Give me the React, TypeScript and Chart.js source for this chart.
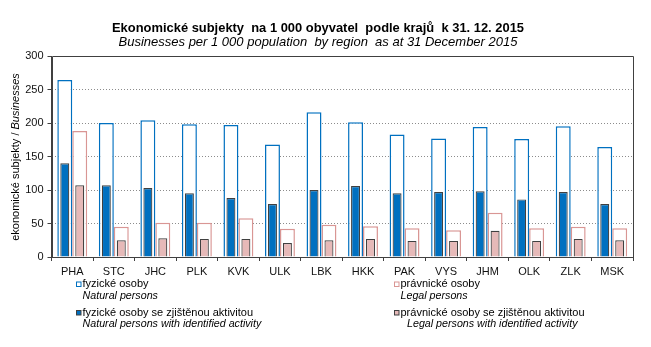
import React, { useEffect, useRef } from "react";
import { Chart, registerables } from "chart.js";

Chart.register(...registerables);

const categories = ["PHA", "STC", "JHC", "PLK", "KVK", "ULK", "LBK", "HKK", "PAK", "VYS", "JHM", "OLK", "ZLK", "MSK"];
const naturalPersons = [264, 200, 204, 198, 197, 168, 216, 201, 183, 177, 194, 176, 195, 164];
const naturalActive = [140, 107, 103, 95, 88, 79, 100, 106, 95, 97, 98, 86, 97, 79];
const legalPersons = [188, 45, 51, 51, 58, 42, 48, 46, 43, 40, 66, 43, 45, 43];
const legalActive = [107, 25, 28, 27, 27, 21, 25, 27, 24, 24, 39, 24, 27, 25];
const yTicks = [0, 50, 100, 150, 200, 250, 300];

const titleCz = "Ekonomické subjekty  na 1 000 obyvatel  podle krajů  k 31. 12. 2015";
const titleEn = "Businesses per 1 000 population  by region  as at 31 December 2015";
const yTitleCz = "ekonomické subjekty / ";
const yTitleEn = "Businesses";
const legendItems = [
  { cz: "fyzické osoby", en: "Natural persons", fill: "#ffffff", stroke: "#0070C0" },
  { cz: "právnické osoby", en: "Legal persons", fill: "#ffffff", stroke: "#D99694" },
  { cz: "fyzické osoby se zjištěnou aktivitou", en: "Natural persons with identified activity", fill: "#0070C0", stroke: "#404040" },
  { cz: "právnické osoby se zjištěnou aktivitou", en: "Legal persons with identified activity", fill: "#E6B9B8", stroke: "#404040" },
];

const FONT = '"Liberation Sans", Arial, sans-serif';
const BLUE = "#0070C0";
const PINK_LINE = "#D99694";
const PINK_FILL = "#E6B9B8";
const DARK = "#404040";

const decorPlugin = {
  id: "decor",
  afterDatasetsDraw(chart: any) {
    const { ctx, chartArea } = chart;
    const { left, top, right, bottom } = chartArea;
    ctx.save();
    ctx.strokeStyle = DARK;
    ctx.lineWidth = 1;
    ctx.beginPath();
    const l = Math.round(left) + 0.5;
    const r = Math.round(right) + 0.5;
    const t = Math.round(top) + 0.5;
    const b = Math.round(bottom) + 0.5;
    ctx.moveTo(l, t);
    ctx.lineTo(r, t);
    ctx.lineTo(r, b);
    ctx.lineTo(l, b);
    ctx.closePath();
    ctx.stroke();
    ctx.restore();
  },
  afterDraw(chart: any) {
    const { ctx } = chart;
    ctx.save();
    ctx.fillStyle = "#000";
    ctx.textAlign = "center";
    ctx.textBaseline = "alphabetic";
    ctx.font = `bold 13px ${FONT}`;
    ctx.fillText(titleCz, 318, 31.5, 412);
    ctx.font = `italic 13px ${FONT}`;
    ctx.fillText(titleEn, 318, 46, 399);

    // y axis title
    ctx.save();
    ctx.translate(16, 157);
    ctx.rotate(-Math.PI / 2);
    ctx.textBaseline = "middle";
    ctx.textAlign = "left";
    ctx.font = `11px ${FONT}`;
    const w1 = ctx.measureText(yTitleCz).width;
    ctx.font = `italic 11px ${FONT}`;
    const w2 = ctx.measureText(yTitleEn).width;
    const start = -(w1 + w2) / 2;
    ctx.font = `11px ${FONT}`;
    ctx.fillText(yTitleCz, start, 0);
    ctx.font = `italic 11px ${FONT}`;
    ctx.fillText(yTitleEn, start + w1, 0);
    ctx.restore();

    // legend
    const cols = [76, 394];
    const rows = [284, 312.5];
    legendItems.forEach((it, i) => {
      const x = cols[i % 2];
      const y = rows[Math.floor(i / 2)];
      ctx.fillStyle = it.fill;
      ctx.fillRect(x, y - 2.5, 5, 5);
      ctx.strokeStyle = it.stroke;
      ctx.lineWidth = 1;
      ctx.strokeRect(x + 0.5, y - 2, 4.5, 4.5);
      ctx.fillStyle = "#000";
      ctx.textAlign = "left";
      ctx.textBaseline = "middle";
      ctx.font = `11px ${FONT}`;
      ctx.fillText(it.cz, x + 6.5, y);
      ctx.font = `italic 10.7px ${FONT}`;
      const enX = i === 3 ? x + 13 : x + 6.5;
      ctx.fillText(it.en, enX, y + 12);
    });
    ctx.restore();
  },
};

export default function App() {
  const ref = useRef<HTMLCanvasElement | null>(null);
  useEffect(() => {
    if (!ref.current) return;
    const chart = new Chart(ref.current, {
      type: "bar",
      data: {
        labels: categories,
        datasets: [
          {
            label: "fyzické osoby se zjištěnou aktivitou",
            data: naturalActive,
            stack: "natural",
            order: 1,
            backgroundColor: BLUE,
            borderColor: DARK,
            borderWidth: 1.2,
            categoryPercentage: 0.72,
            barPercentage: 0.6,
          },
          {
            label: "právnické osoby se zjištěnou aktivitou",
            data: legalActive,
            stack: "legal",
            order: 1,
            backgroundColor: PINK_FILL,
            borderColor: DARK,
            borderWidth: 1.2,
            categoryPercentage: 0.72,
            barPercentage: 0.6,
          },
          {
            label: "fyzické osoby",
            data: naturalPersons,
            stack: "natural",
            order: 2,
            backgroundColor: "#ffffff",
            borderColor: BLUE,
            borderWidth: 1.5,
            categoryPercentage: 0.72,
            barPercentage: 1.0,
          },
          {
            label: "právnické osoby",
            data: legalPersons,
            stack: "legal",
            order: 2,
            backgroundColor: "#ffffff",
            borderColor: PINK_LINE,
            borderWidth: 1.5,
            categoryPercentage: 0.72,
            barPercentage: 1.0,
          },
        ],
      },
      options: {
        responsive: false,
        animation: false,
        devicePixelRatio: 1,
        layout: { padding: { top: 56, left: 0, right: 18, bottom: 70 } },
        plugins: {
          legend: { display: false },
          title: { display: false },
          tooltip: { enabled: false },
        },
        scales: {
          x: {
            type: "category",
            stacked: true,
            offset: true,
            grid: {
              offset: true,
              drawOnChartArea: false,
              drawTicks: true,
              tickLength: 4,
              color: DARK,
              tickColor: DARK,
            },
            border: { display: true, color: DARK, width: 1 },
            ticks: {
              color: "#111",
              font: { family: FONT, size: 11 },
              padding: 4,
              maxRotation: 0,
              autoSkip: false,
            },
            afterFit: (s: any) => {
              s.height = 20;
            },
          },
          y: {
            stacked: false,
            min: 0,
            max: 300,
            afterBuildTicks: (s: any) => {
              s.ticks = yTicks.map((v) => ({ value: v }));
            },
            grid: {
              color: (c: any) =>
                c.tick && (c.tick.value === 0 || c.tick.value === 300) ? "rgba(0,0,0,0)" : "#8c8c8c",
              tickColor: DARK,
              tickLength: 4,
              lineWidth: 1,
            },
            border: { display: true, color: DARK, width: 1, dash: [1, 2] },
            ticks: {
              color: "#111",
              font: { family: FONT, size: 11 },
              padding: 4,
            },
            afterFit: (s: any) => {
              s.width = 51.5;
            },
          },
        },
      },
      plugins: [decorPlugin],
    } as any);
    return () => chart.destroy();
  }, []);
  return (
    <div style={{ position: "absolute", left: 0, top: 0, width: 651, height: 347, background: "#fff" }}>
      <canvas ref={ref} width={651} height={347} style={{ display: "block" }} />
    </div>
  );
}
